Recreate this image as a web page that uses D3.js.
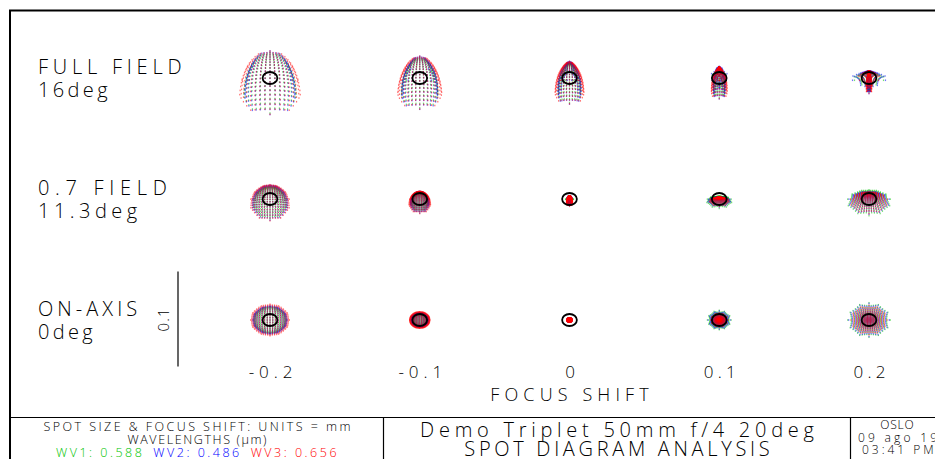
<!DOCTYPE html>
<html>
<head>
<meta charset="utf-8">
<script src="https://cdn.jsdelivr.net/npm/d3@7"></script>
<style>
  html, body { margin: 0; padding: 0; background: #fff; overflow: hidden; }
  svg { display: block; }
  text { font-family: "Open Sans", "DejaVu Sans", sans-serif; font-weight: 300; }
</style>
</head>
<body>
<svg id="chart" width="935" height="459"></svg>
<script>
// ---- Data -------------------------------------------------------------
const focusShifts = [-0.2, -0.1, 0, 0.1, 0.2];          // mm
const focusLabels = ["-0.2", "-0.1", "0", "0.1", "0.2"];
const fieldNames  = ["FULL FIELD", "0.7 FIELD", "ON-AXIS"];
const fieldAngles = ["16deg", "11.3deg", "0deg"];

const wavelengths      = [0.588, 0.486, 0.656];          // µm
const wavelengthNames  = ["WV1", "WV2", "WV3"];
const wavelengthColors = ["#00c400", "#0000ff", "#ff0000"];

// Ray-aberration coefficients per field (mm at the image plane)
const tangentialFocus = [0.40, 0.07, 0.063];   // focus shift of the tangential image
const sagittalFocus   = [0.26, 0.05, 0.063];   // focus shift of the sagittal image
const pupilHeight     = [0.69, 0.95, 1.00];    // meridional pupil after vignetting
const tangentialSph   = [0.001, 0.003, 0.006]; // third-order spherical, tangential
const sagittalSph     = [0.016, 0.005, 0.006]; // third-order spherical, sagittal
const comaAb          = [0.006, 0.0022, 0.0];
// Longitudinal colour (focus offset, mm) and spherochromatism per wavelength
const colorFocus      = [-0.015, 0.014, 0.008];
const colorSpherical  = [1.0, 1.25, 0.85];
const defocusSlope    = 0.08;    // marginal ray height per mm of focus shift
const airyRadius      = 0.0063;  // mm
const scaleBar        = 0.1;     // mm
const pupilSamples    = 19;      // rays across the pupil

const titleLines = ["Demo Triplet 50mm f/4 20deg", "SPOT DIAGRAM ANALYSIS"];
const infoLines  = ["SPOT SIZE & FOCUS SHIFT: UNITS = mm", "WAVELENGTHS (\u03bcm)"];
const stampLines = ["OSLO", "09 ago 19", "03:41 PM"];

// ---- Setup ------------------------------------------------------------
const svg = d3.select("#chart");

const x = d3.scaleLinear().domain([-0.2, 0.2]).range([270, 869]);
const y = d3.scalePoint().domain(fieldNames).range([78, 320]);
// spot-plane scales (mm -> px), drawn slightly wider than tall
const spotX = d3.scaleLinear().domain([0, 0.1]).range([0, 117]);
const spotY = d3.scaleLinear().domain([0, 0.1]).range([0, 95]);

// plotter-style text: fixed character pitch, spread with textLength
function label(g, str, o) {
  const width = str.length * o.pitch - o.pitch * 0.3;
  let x0 = o.x;
  if (o.anchor === "middle") x0 = o.x - width / 2;
  const t = g.append("text")
    .attr("x", x0).attr("y", o.y)
    .attr("font-size", o.size)
    .style("fill", o.fill || "#000")
    .text(str);
  if (str.length > 1) t.attr("textLength", width).attr("lengthAdjust", "spacing");
  return t;
}

// ---- Frame ------------------------------------------------------------
const frame = svg.append("g").attr("stroke", "#000").attr("fill", "none");
frame.append("path").attr("d", "M10,459V10.5H935").attr("stroke-width", 2);
frame.append("line").attr("x1", 10).attr("x2", 935).attr("y1", 417.5).attr("y2", 417.5).attr("stroke-width", 1.2);
frame.append("line").attr("x1", 383.5).attr("x2", 383.5).attr("y1", 417).attr("y2", 459).attr("stroke-width", 1.2);
frame.append("line").attr("x1", 850.5).attr("x2", 850.5).attr("y1", 417).attr("y2", 459).attr("stroke-width", 1.2);

// ---- Row labels -------------------------------------------------------
const rows = svg.append("g");
fieldNames.forEach((name, i) => {
  const cy = y(name);
  label(rows, name, { x: 38, y: cy - 4, size: 20, pitch: 14.8 });
  label(rows, fieldAngles[i], { x: 38, y: cy + 19, size: 20, pitch: 14.8 });
});

// ---- Spot diagrams ----------------------------------------------------
// Ray intercepts on a square pupil grid for one field / focus / wavelength
function traceSpot(f, dz, w) {
  const pts = [];
  const n = pupilSamples;
  const St = tangentialSph[f] * colorSpherical[w];
  const Ss = sagittalSph[f] * colorSpherical[w];
  for (let i = 0; i < n; i++) {
    for (let j = 0; j < n; j++) {
      const px = -1 + 2 * i / (n - 1);
      const py = -1 + 2 * j / (n - 1);
      if (px * px + py * py > 1.0001) continue;
      const u = px, v = py * pupilHeight[f];
      const r2 = u * u + v * v;
      const d = dz - colorFocus[w];
      const ex = (defocusSlope * (d - sagittalFocus[f]) + Ss * r2) * u
               + 2 * comaAb[f] * u * v;
      const ey = (defocusSlope * (d - tangentialFocus[f]) + St * r2) * v
               + comaAb[f] * (u * u + 3 * v * v);
      pts.push([ex, ey]);
    }
  }
  return pts;
}

const spots = svg.append("g");
fieldNames.forEach((name, f) => {
  focusShifts.forEach(dz => {
    const g = spots.append("g")
      .attr("transform", `translate(${x(dz)},${y(name)})`);
    const sets = wavelengths.map((wl, w) => traceSpot(f, dz, w));
    // each diagram is referred to the polychromatic centroid
    const all = sets.flat();
    const cx = d3.mean(all, p => p[0]);
    const cy = d3.mean(all, p => p[1]);
    sets.forEach((pts, w) => {
      g.append("g")
        .attr("fill", wavelengthColors[w])
        .attr("fill-opacity", 0.55)
        .selectAll("rect")
        .data(pts)
        .join("rect")
        .attr("x", d => spotX(d[0] - cx) - 0.6)
        .attr("y", d => spotY(d[1] - cy) - 0.8)
        .attr("width", 1.2)
        .attr("height", 1.6);
    });
    g.append("ellipse")
      .attr("rx", spotX(airyRadius))
      .attr("ry", spotY(airyRadius))
      .attr("fill", "none")
      .attr("stroke", "#000")
      .attr("stroke-width", 1.8);
  });
});

// ---- Scale bar --------------------------------------------------------
const bar = svg.append("g");
const barMid = y("ON-AXIS");
bar.append("line")
  .attr("x1", 178).attr("x2", 178)
  .attr("y1", barMid - spotY(scaleBar) / 2 - 1)
  .attr("y2", barMid + spotY(scaleBar) / 2 - 1)
  .attr("stroke", "#000").attr("stroke-width", 1.2);
bar.append("g")
  .attr("transform", `translate(169,${barMid}) rotate(-90)`)
  .call(g => label(g, String(scaleBar), { x: 0, y: 0, size: 15, pitch: 8.5, anchor: "middle" }));

// ---- Focus-shift axis -------------------------------------------------
const axis = d3.axisBottom(x)
  .tickValues(focusShifts)
  .tickFormat((d, i) => focusLabels[i])
  .tickSize(0).tickPadding(0);
const gAxis = svg.append("g")
  .attr("transform", "translate(0,378)")
  .call(axis)
  .attr("font-family", null).attr("font-size", null);
gAxis.select(".domain").remove();
gAxis.selectAll(".tick text")
  .attr("y", 0).attr("dy", 0)
  .attr("font-size", 17)
  .attr("fill", "#000")
  .each(function (d, i) {
    const s = focusLabels[i];
    if (s.length > 1) {
      d3.select(this).attr("textLength", s.length * 11.8 - 3.5).attr("lengthAdjust", "spacing");
    }
  });

label(svg, "FOCUS SHIFT", { x: x(0), y: 401, size: 18, pitch: 14.8, anchor: "middle" });

// ---- Title block ------------------------------------------------------
const info = svg.append("g");
label(info, infoLines[0], { x: 197, y: 431, size: 12.5, pitch: 8.85, anchor: "middle" });
label(info, infoLines[1], { x: 197, y: 444, size: 12.5, pitch: 8.85, anchor: "middle" });
let wx = 56;
wavelengths.forEach((wl, w) => {
  const s = `${wavelengthNames[w]}: ${wl.toFixed(3)}`;
  label(info, s, { x: wx, y: 457, size: 12.5, pitch: 8.85, fill: wavelengthColors[w] });
  wx += (s.length + 1) * 8.85;
});

label(svg, titleLines[0], { x: 617, y: 437, size: 20, pitch: 14.75, anchor: "middle" });
label(svg, titleLines[1], { x: 617, y: 456, size: 20, pitch: 14.75, anchor: "middle" });

label(svg, stampLines[0], { x: 897, y: 429, size: 12, pitch: 9, anchor: "middle" });
label(svg, stampLines[1], { x: 858, y: 442, size: 12, pitch: 9.1 });
label(svg, stampLines[2], { x: 862, y: 454, size: 12, pitch: 9.3 });
</script>
</body>
</html>
